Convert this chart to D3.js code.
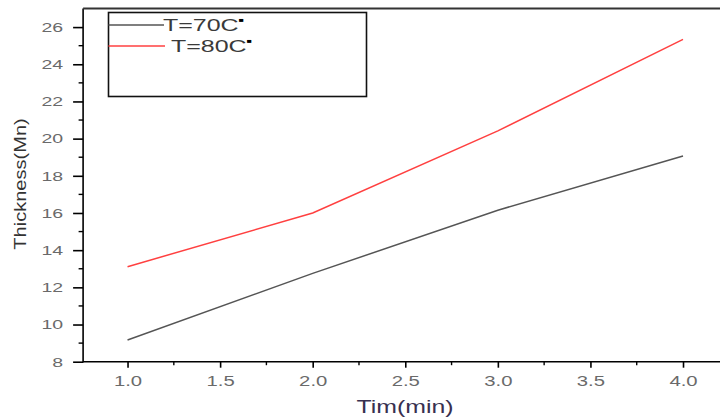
<!DOCTYPE html>
<html>
<head>
<meta charset="utf-8">
<script src="https://cdn.jsdelivr.net/npm/d3@7"></script>
<style>
  html, body { margin: 0; padding: 0; background: #fff; overflow: hidden; }
  svg { display: block; font-family: "Liberation Sans", Arial, sans-serif; }
</style>
</head>
<body>
<svg id="chart" width="720" height="419"></svg>
<script>
// Film thickness vs. deposition time at two bath temperatures
const times = [1.0, 2.0, 3.0, 4.0];
const thickness70 = [9.17, 12.75, 16.15, 19.07];
const thickness80 = [13.11, 16.0, 20.42, 25.34];
const seriesNames = ["T=70C", "T=80C"];
const xTicks = [1.0, 1.5, 2.0, 2.5, 3.0, 3.5, 4.0];
const yTicks = [8, 10, 12, 14, 16, 18, 20, 22, 24, 26];

const svg = d3.select("#chart");

const x = d3.scaleLinear().domain([0.76, 4.25]).range([83.1, 729.3]);
const y = d3.scaleLinear().domain([8, 27]).range([361.7, 8.5]);

const x0 = x.range()[0], yBottom = y.range()[0], yTop = y.range()[1];

// horizontally widened text helper
function wideText(parent, tx, ty, str, opts) {
  const g = parent.append("g")
    .attr("transform", `translate(${tx},${ty}) ${opts.rotate ? "rotate(" + opts.rotate + ")" : ""} scale(${opts.sx || 1},${opts.sy || 1})`);
  const t = g.append("text")
    .attr("text-anchor", opts.anchor || "start")
    .attr("dominant-baseline", opts.baseline || "alphabetic")
    .attr("font-size", opts.size)
    .attr("fill", opts.fill || "#333")
    .text(str);
  return t;
}

// X axis (ticks + labels)
const xAxis = d3.axisBottom(x).tickValues(xTicks).tickSize(6).tickFormat(d3.format(".1f"));
const gx = svg.append("g").attr("transform", `translate(0,${yBottom})`).call(xAxis);
gx.select(".domain").remove();
gx.selectAll(".tick line").attr("stroke", "#000").attr("stroke-width", 1.6);
gx.selectAll(".tick text").remove();
gx.selectAll(".tick").each(function(d) {
  wideText(d3.select(this), 0, 24, d3.format(".1f")(d), { size: 14, sx: 1.45, anchor: "middle", fill: "#6a6a6a" });
});
// minor x ticks
const xMinor = d3.range(0.75, 4.3, 0.25).filter(v => !xTicks.some(t => Math.abs(t - v) < 1e-6) && x(v) >= x0);
svg.append("g").selectAll("line").data(xMinor).join("line")
  .attr("x1", d => x(d)).attr("x2", d => x(d))
  .attr("y1", yBottom).attr("y2", yBottom + 3.5)
  .attr("stroke", "#000").attr("stroke-width", 1.4);

// Y axis (ticks + labels)
const yAxis = d3.axisLeft(y).tickValues(yTicks).tickSize(10).tickFormat(d3.format("d"));
const gy = svg.append("g").attr("transform", `translate(${x0},0)`).call(yAxis);
gy.select(".domain").remove();
gy.selectAll(".tick line").attr("stroke", "#000").attr("stroke-width", 1.6);
gy.selectAll(".tick text").remove();
gy.selectAll(".tick").each(function(d) {
  wideText(d3.select(this), -20, 0, String(d), { size: 13, sx: 1.5, anchor: "end", baseline: "central", fill: "#6a6a6a" });
});
const yMinor = d3.range(9, 27, 2);
svg.append("g").selectAll("line").data(yMinor).join("line")
  .attr("x1", x0 - 4.5).attr("x2", x0)
  .attr("y1", d => y(d)).attr("y2", d => y(d))
  .attr("stroke", "#000").attr("stroke-width", 1.4);

// Frame: left, bottom, top
svg.append("line").attr("x1", x0).attr("x2", x0).attr("y1", yTop).attr("y2", yBottom + 0.8)
  .attr("stroke", "#000").attr("stroke-width", 1.6);
svg.append("line").attr("x1", x0).attr("x2", 730).attr("y1", yBottom).attr("y2", yBottom)
  .attr("stroke", "#000").attr("stroke-width", 1.6);
svg.append("line").attr("x1", x0).attr("x2", 730).attr("y1", yTop).attr("y2", yTop)
  .attr("stroke", "#333").attr("stroke-width", 2.2);

// Series lines
const line = d3.line().x((d, i) => x(times[i])).y(d => y(d));
svg.append("path").datum(thickness70).attr("d", line)
  .attr("fill", "none").attr("stroke", "#555").attr("stroke-width", 1.5);
svg.append("path").datum(thickness80).attr("d", line)
  .attr("fill", "none").attr("stroke", "#ff4040").attr("stroke-width", 1.5);

// Legend
const legend = svg.append("g");
legend.append("rect").attr("x", 108.5).attr("y", 12.5).attr("width", 258).attr("height", 84)
  .attr("fill", "none").attr("stroke", "#111").attr("stroke-width", 1.6);
legend.append("line").attr("x1", 108.5).attr("x2", 164).attr("y1", 25).attr("y2", 25)
  .attr("stroke", "#555").attr("stroke-width", 1.5);
legend.append("line").attr("x1", 108.5).attr("x2", 165).attr("y1", 46).attr("y2", 46)
  .attr("stroke", "#ff4040").attr("stroke-width", 1.3);
const lt1 = wideText(legend, 163, 31, seriesNames[0], { size: 17, sx: 1.47, fill: "#3a3a3a" });
lt1.append("tspan").attr("font-size", 6).attr("dy", -9).attr("fill", "#000").text("■");
const lt2 = wideText(legend, 171, 52, seriesNames[1], { size: 17, sx: 1.47, fill: "#3a3a3a" });
lt2.append("tspan").attr("font-size", 6).attr("dy", -9).attr("fill", "#000").text("■");

// Axis titles
wideText(svg, 405, 413, "Tim(min)", { size: 18, sx: 1.38, anchor: "middle", fill: "#383050" });
wideText(svg, 26, 184, "Thickness(Mn)", { size: 17, sx: 1.18, rotate: -90, anchor: "middle", fill: "#333" });
</script>
</body>
</html>
